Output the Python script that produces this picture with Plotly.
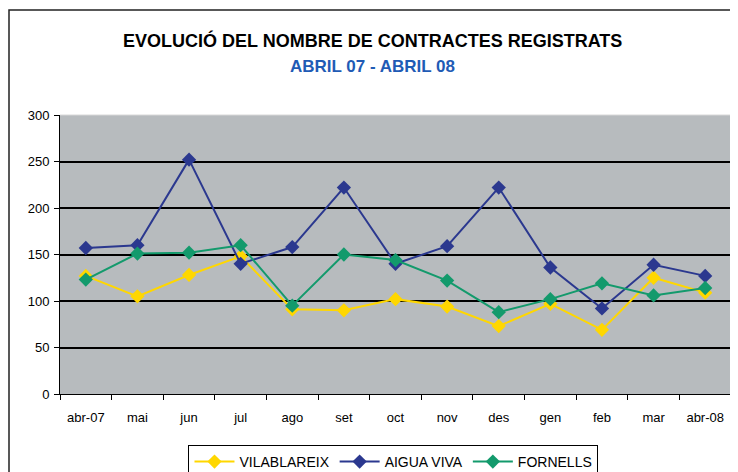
import plotly.graph_objects as go

months = ["abr-07", "mai", "jun", "jul", "ago", "set", "oct", "nov", "des", "gen", "feb", "mar", "abr-08"]
vilablareix = [127, 105, 128, 148, 91, 90, 102, 94, 73, 97, 69, 125, 109]
aiguaviva = [157, 160, 252, 140, 158, 222, 140, 159, 222, 136, 92, 139, 127]
fornells = [123, 151, 152, 160, 95, 150, 144, 122, 88, 102, 119, 106, 114]

series = [
    ("VILABLAREIX", vilablareix, "#FFD700"),
    ("AIGUA VIVA", aiguaviva, "#2B388F"),
    ("FORNELLS", fornells, "#139A6C"),
]

fig = go.Figure()
for name, vals, col in series:
    fig.add_trace(go.Scatter(
        x=months, y=vals, name=name, mode="lines+markers",
        line=dict(color=col, width=2),
        marker=dict(symbol="diamond", size=11, color=col),
    ))

# page body has an 8px margin; figure is sized/offset to compensate
W, H = 730, 464
L, R, T, B = 52, 7, 107, 78
PH = H - T - B  # plot height in px
font = "Liberation Sans, Arial, sans-serif"
fig.update_layout(
    width=W, height=H,
    margin=dict(l=L, r=R, t=T, b=B, autoexpand=False),
    paper_bgcolor="white",
    plot_bgcolor="#B7BBBE",
    font=dict(family=font, size=13, color="black"),
    showlegend=True,
    legend=dict(
        orientation="h", x=0.497, xanchor="center",
        yref="container", y=(H - 437) / H, yanchor="top",
        bordercolor="black", borderwidth=1, bgcolor="white",
        font=dict(size=14, family=font), itemwidth=40, tracegroupgap=0,
    ),
    xaxis=dict(
        type="category", showgrid=False, ticks="outside", ticklen=5, tickcolor="black",
        tickson="boundaries", showline=True, linecolor="black", linewidth=1,
        tickfont=dict(size=13), range=[-0.5, 12.5], automargin=False,
        ticklabelstandoff=11,
    ),
    yaxis=dict(
        range=[0, 300], dtick=50, showgrid=True, gridcolor="black", gridwidth=1.5,
        ticks="outside", ticklen=5, tickcolor="black", showline=True, linecolor="black",
        linewidth=1, zeroline=False, tickfont=dict(size=13), automargin=False,
        ticklabelstandoff=2,
    ),
    annotations=[
        dict(text="<b>EVOLUCIÓ DEL NOMBRE DE CONTRACTES REGISTRATS</b>", xref="paper", yref="paper",
             x=0.466, y=(H - B - 32) / PH, xanchor="center", yanchor="middle", showarrow=False,
             font=dict(size=18, family=font, color="black")),
        dict(text="<b>ABRIL 07 - ABRIL 08</b>", xref="paper", yref="paper",
             x=0.466, y=(H - B - 58) / PH, xanchor="center", yanchor="middle", showarrow=False,
             font=dict(size=17, family=font, color="#1F5BB5")),
    ],
    shapes=[
        dict(type="rect", xref="paper", yref="paper", x0=(1 - L) / (W - L - R), x1=1.2,
             y0=-0.5, y1=(H - B - 2) / PH, line=dict(color="#222222", width=1.5)),
        dict(type="line", xref="paper", yref="paper", x0=0, x1=1, y0=1, y1=1,
             line=dict(color="#D8D8D8", width=1)),
        dict(type="line", xref="paper", yref="paper", x0=1, x1=1, y0=0, y1=1,
             line=dict(color="#D8D8D8", width=1)),
    ],
)

fig.write_html("out.html")
